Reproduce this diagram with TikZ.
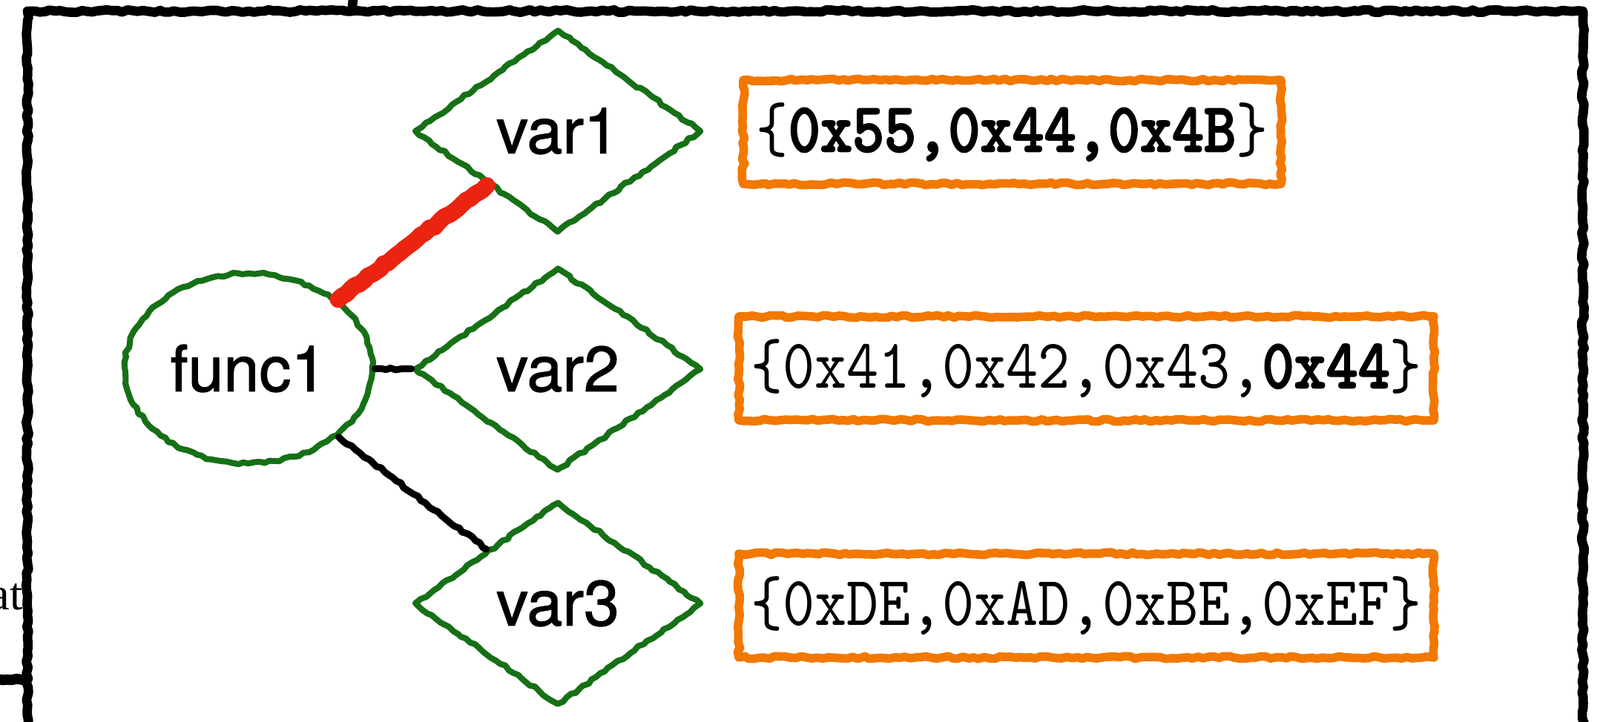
\documentclass[tikz,border=0pt]{standalone}
\usepackage{fontspec}
\usetikzlibrary{shapes.geometric,decorations.pathmorphing}
\newfontfamily\labelfont{TeX Gyre Heros}[FakeBold=1.3]
\newfontfamily\codefont{lmmono10-regular.otf}[BoldFont=lmmonolt10-bold.otf,BoldFeatures={FakeBold=2},FakeStretch=0.865]
\newfontfamily\notefont{Liberation Serif}
\definecolor{nodegreen}{RGB}{22,112,22}
\definecolor{boxorange}{RGB}{242,120,0}
\definecolor{edgered}{RGB}{234,36,16}

\begin{document}
\begin{tikzpicture}[>=latex,cap=round,line join=round,
        sketch/.style={decorate,decoration={random steps,segment length=2pt,amplitude=0.5pt}},
        framebox/.style={rectangle,draw=black,line width=3.6pt,sketch,inner sep=0pt},
        funcnode/.style={ellipse,draw=nodegreen,line width=2.3pt,sketch,
            minimum width=3.33cm,minimum height=2.56cm,
            font=\labelfont\fontsize{24.5pt}{28pt}\selectfont},
        varnode/.style={diamond,draw=nodegreen,line width=2.3pt,sketch,
            minimum width=3.88cm,minimum height=2.66cm,
            font=\labelfont\fontsize{24.5pt}{28pt}\selectfont},
        valbox/.style={rectangle,draw=boxorange,line width=3.3pt,sketch,
            minimum height=1.40cm,inner sep=0pt,
            font=\codefont\fontsize{27pt}{32pt}\selectfont},
        link/.style={draw=black,line width=2.6pt,sketch},
        hotlink/.style={draw=edgered,line width=6.5pt,sketch}]

        % picture area
        \clip (0,0) rectangle (21.57,9.74);

        % the outer frame
        \node[framebox,minimum width=20.97cm,minimum height=9.68cm] (frame) at (10.855,4.75) {};

        % pieces coming in from outside
        \node[font=\notefont\fontsize{17.7pt}{20pt}\selectfont,anchor=base east,inner sep=0pt] (atlabel) at (0.31,1.51) {at};
        \coordinate (topin) at (4.75,10.1);
        \coordinate (leftin) at (-0.4,0.57);
        \draw[line width=3.6pt,sketch] (topin) -- (topin |- frame.north);
        \draw[line width=4pt,sketch] (leftin) -- (leftin -| frame.west);

        % the function
        \node[funcnode] (func1) at (3.35,4.77) {func1};

        % the variables
        \foreach \n/\y in {1/7.97,2/4.76,3/1.60}
                \node[varnode] (var\n) at (7.52,\y) {var\n};

        % the values
        \node[valbox,minimum width=7.25cm] (val1) at (13.645,7.96) {\{{\bfseries 0x55,0x44,0x4B}\}};
        \node[valbox,minimum width=9.37cm] (val2) at (14.645,4.77) {\{0x41,0x42,0x43,{\bfseries 0x44}\}};
        \node[valbox,minimum width=9.37cm] (val3) at (14.645,1.57) {\{0xDE,0xAD,0xBE,0xEF\}};

        % links from the function to its variables
        \draw[hotlink] (func1) -- (var1);
        \draw[link] (func1) -- (var2);
        \draw[link] (func1) -- (var3);
\end{tikzpicture}
\end{document}
